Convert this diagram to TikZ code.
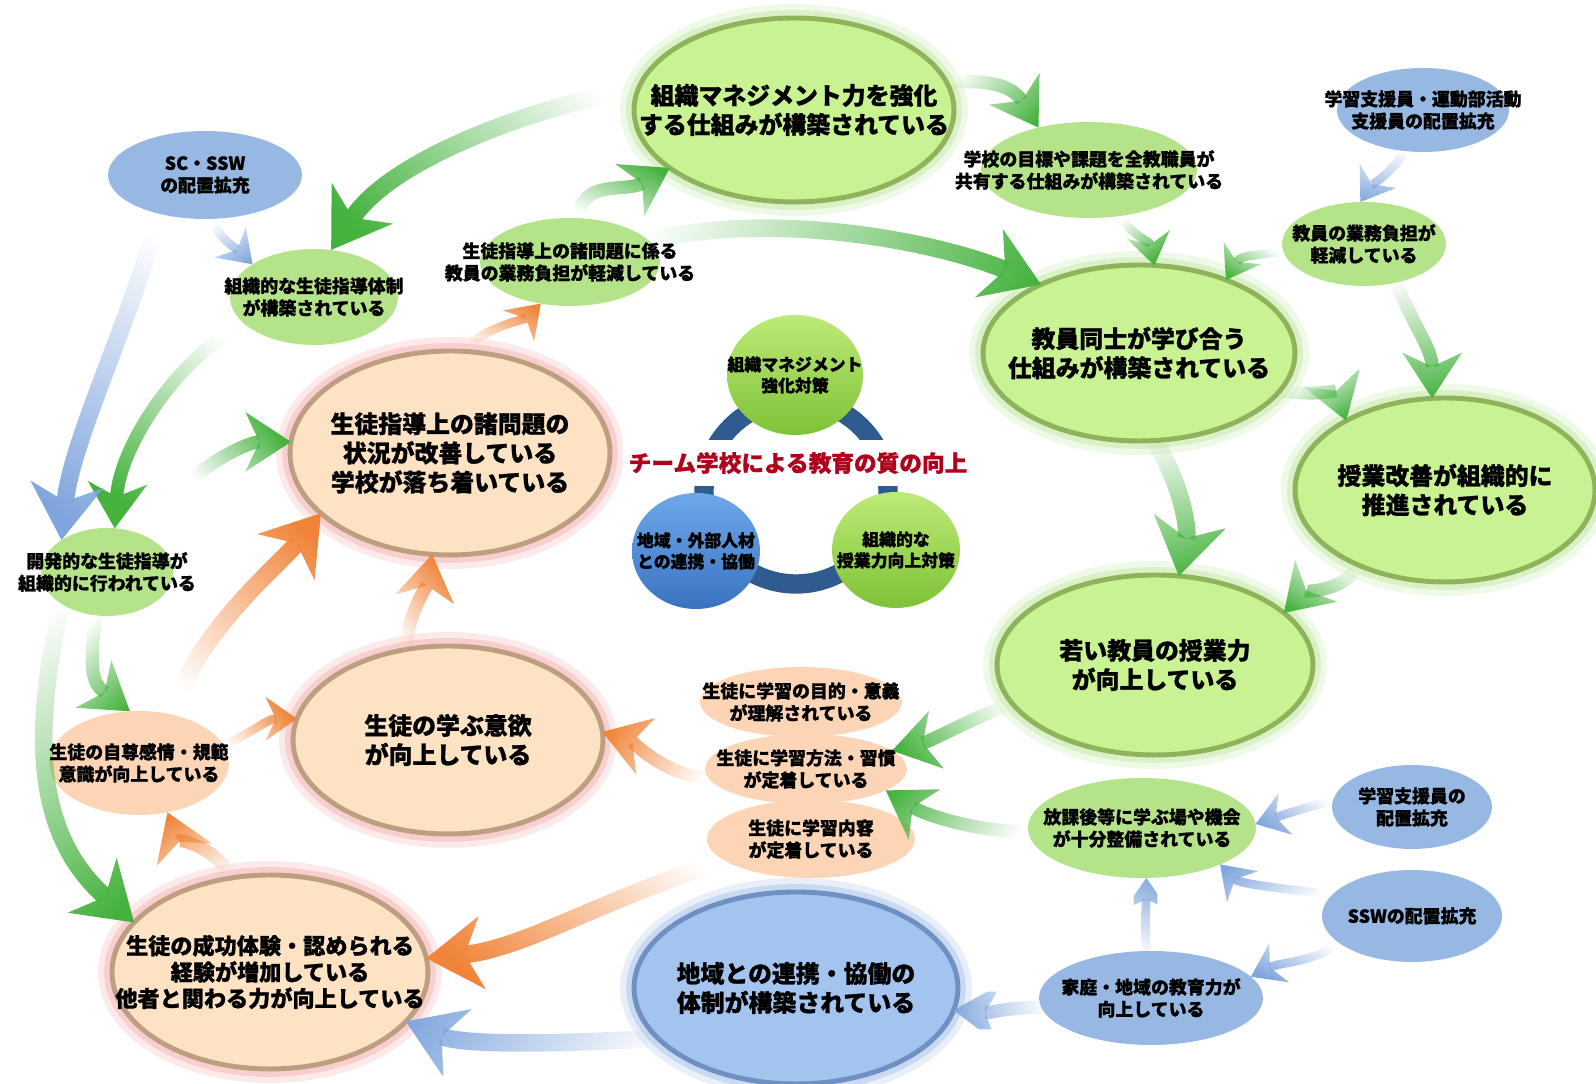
\documentclass[tikz,border=0pt]{standalone}
\usepackage{fontspec}
\newfontfamily\jp{Noto Sans CJK JP}[BoldFeatures={FakeBold=1}]
\usetikzlibrary{shapes.geometric,arrows.meta,fadings}

\definecolor{gFill}{HTML}{C9F293}
\definecolor{gRim}{HTML}{8EB35A}
\definecolor{gGlow}{HTML}{A8DC7A}
\definecolor{gSmall}{HTML}{B5E38A}
\definecolor{pFill}{HTML}{FDE2C3}
\definecolor{pRim}{HTML}{BE9E80}
\definecolor{pGlow}{HTML}{F08C8C}
\definecolor{pSmall}{HTML}{FBD5B6}
\definecolor{bFill}{HTML}{A3C4EE}
\definecolor{bRim}{HTML}{6E90C2}
\definecolor{bGlow}{HTML}{7FA6DE}
\definecolor{bSmall}{HTML}{97B8E3}
\definecolor{gArr}{HTML}{45B23E}
\definecolor{bArr}{HTML}{7FA5DC}
\definecolor{oArr}{HTML}{F0853A}
\definecolor{ringBlue}{HTML}{2F5B8E}
\definecolor{titleRed}{HTML}{B0001C}
\definecolor{tGreenTop}{HTML}{BDEA78}
\definecolor{tGreenBot}{HTML}{7EC236}
\definecolor{tBlueTop}{HTML}{6EA8EA}
\definecolor{tBlueBot}{HTML}{3A72C0}

\tikzfading[name=arrowfade, left color=transparent!100, right color=transparent!0]
\pgfdeclarelayer{shapes}
\pgfdeclarelayer{arrows}
\pgfsetlayers{shapes,arrows,main}

\begin{document}
\begin{tikzpicture}
[x=0.02cm, y=0.02cm,
  gbig/.style={ellipse, outer sep=0pt, fill=gFill, draw=gRim, line width=2.8pt,
    preaction={draw=gGlow, line width=16pt, draw opacity=.18},
    preaction={draw=gGlow, line width=9pt, draw opacity=.3}},%
  pbig/.style={ellipse, outer sep=0pt, fill=pFill, draw=pRim, line width=2.8pt,
    preaction={draw=pGlow, line width=16pt, draw opacity=.18},
    preaction={draw=pGlow, line width=9pt, draw opacity=.3}},%
  bbig/.style={ellipse, outer sep=0pt, fill=bFill, draw=bRim, line width=2.8pt,
    preaction={draw=bGlow, line width=16pt, draw opacity=.18},
    preaction={draw=bGlow, line width=9pt, draw opacity=.3}},%
  gsmall/.style={ellipse, outer sep=0pt, fill=gSmall},%
  psmall/.style={ellipse, outer sep=0pt, fill=pSmall},%
  bsmall/.style={ellipse, outer sep=0pt, fill=bSmall},%
  tgreen/.style={ellipse, outer sep=0pt, top color=tGreenTop, bottom color=tGreenBot},%
  tblue/.style={ellipse, outer sep=0pt, top color=tBlueTop, bottom color=tBlueBot},%
  ringline/.style={draw=ringBlue, line width=11pt},%
  bigtxt/.style={font=\jp\bfseries\fontsize{13.6}{16.6}\selectfont, align=center, inner sep=0pt},%
  succtxt/.style={font=\jp\bfseries\fontsize{12.6}{15}\selectfont, align=center, inner sep=0pt},%
  smalltxt/.style={font=\jp\bfseries\fontsize{10.2}{12.6}\selectfont, align=center, inner sep=0pt},%
  tritxt/.style={font=\jp\bfseries\fontsize{9.6}{12}\selectfont, align=center, inner sep=0pt},%
  titletxt/.style={font=\jp\bfseries\fontsize{12.9}{15}\selectfont, text=titleRed,
    fill=white, inner xsep=3pt, inner ysep=7pt},%
  garr/.style={draw=gArr, path fading=arrowfade},%
  barr/.style={draw=bArr, path fading=arrowfade},%
  oarr/.style={draw=oArr, path fading=arrowfade},%
  bigarr/.style={line width=10pt, -{Stealth[length=32pt, width=42pt, inset=10pt, line width=0pt]}},%
  midarr/.style={line width=7.5pt, -{Stealth[length=26pt, width=34pt, inset=8pt, line width=0pt]}},%
  smallarr/.style={line width=5pt, -{Stealth[length=18pt, width=25pt, inset=6pt, line width=0pt]}}]
\useasboundingbox (0,0) rectangle (1596,1084);
%% ring behind the three circles
\begin{pgfonlayer}{shapes}
\draw[ringline] (796,592) circle (92);
\end{pgfonlayer}
%% ellipses and their texts
\foreach \nm/\x/\y/\w/\h/\kind/\fnt/\txt in {
  org/794/974/6.4/3.68/gbig/bigtxt/{組織マネジメント力を強化\\する仕組みが構築されている},
  goal/1089/914/4.32/1.92/gsmall/smalltxt/{学校の目標や課題を全教職員が\\共有する仕組みが構築されている},
  sup1/1423/974/3.44/1.68/bsmall/smalltxt/{学習支援員・運動部活動\\支援員の配置拡充},
  burden/1364/840/3.28/1.68/gsmall/smalltxt/{教員の業務負担が\\軽減している},
  mutual/1139/731/6.24/3.52/gbig/bigtxt/{教員同士が学び合う\\仕組みが構築されている},
  lesson/1445/594/6.0/3.68/gbig/bigtxt/{授業改善が組織的に\\推進されている},
  young/1155/419/6.32/3.6/gbig/bigtxt/{若い教員の授業力\\が向上している},
  gburden/570/822/3.6/1.76/gsmall/smalltxt/{生徒指導上の諸問題に係る\\教員の業務負担が軽減している},
  scssw/205/909/3.88/1.76/bsmall/smalltxt/{SC・SSW\\の配置拡充},
  gsys/314/787/3.36/1.92/gsmall/smalltxt/{組織的な生徒指導体制\\が構築されている},
  calm/450/631/6.4/4.08/pbig/bigtxt/{生徒指導上の諸問題の\\状況が改善している\\学校が落ち着いている},
  devel/107/512/2.64/1.76/gsmall/smalltxt/{開発的な生徒指導が\\組織的に行われている},
  esteem/139/321/3.6/2.08/psmall/smalltxt/{生徒の自尊感情・規範\\意識が向上している},
  motiv/448/344/6.2/3.76/pbig/bigtxt/{生徒の学ぶ意欲\\が向上している},
  success/270/112/6.32/3.88/pbig/succtxt/{生徒の成功体験・認められる\\経験が増加している\\他者と関わる力が向上している},
  region/796/96/6.48/3.84/bbig/bigtxt/{地域との連携・協働の\\体制が構築されている},
  purpose/801/382/4.04/1.4/psmall/smalltxt/{生徒に学習の目的・意義\\が理解されている},
  method/806/315/4.04/1.4/psmall/smalltxt/{生徒に学習方法・習慣\\が定着している},
  content/811/245/4.16/1.56/psmall/smalltxt/{生徒に学習内容\\が定着している},
  afters/1142/256/4.56/2.0/gsmall/smalltxt/{放課後等に学ぶ場や機会\\が十分整備されている},
  sup2/1412/277/3.2/1.68/bsmall/smalltxt/{学習支援員の\\配置拡充},
  ssw/1412/168/3.6/1.84/bsmall/smalltxt/{SSWの配置拡充},
  family/1151/86/4.48/1.88/bsmall/smalltxt/{家庭・地域の教育力が\\向上している},
  tmgmt/795/709/2.72/2.4/tgreen/tritxt/{組織マネジメント\\強化対策},
  tlocal/696/533/2.56/2.32/tblue/tritxt/{地域・外部人材\\との連携・協働},
  tlesson/896/534/2.56/2.32/tgreen/tritxt/{組織的な\\授業力向上対策}} {
  \begin{pgfonlayer}{shapes}
  \node[\kind, minimum width=\w cm, minimum height=\h cm] (\nm) at (\x,\y) {};
  \end{pgfonlayer}
  \node[\fnt] (\nm-t) at (\nm) {\txt};
}
%% title in the middle of the ring
\node[titletxt] (title) at (798,621) {チーム学校による教育の質の向上};
%% arrows
\begin{pgfonlayer}{arrows}
\coordinate (gtail) at (190,604);
% green
\draw[garr,bigarr,fading angle=207] (org.172) .. controls +(-110,-20) and +(60,90) .. (gsys.70);
\draw[garr,midarr,fading angle=50] (gburden.80) .. controls +(5,40) and +(-45,-25) .. (org.205);
\draw[garr,bigarr,fading angle=-5] (gburden.15) .. controls +(120,30) and +(-110,45) .. (mutual.145);
\draw[garr,midarr,fading angle=-28] (org.10) .. controls +(45,5) and +(-25,40) .. (goal.140);
\draw[garr,smallarr,fading angle=-58] (goal.-55) .. controls +(10,-20) and +(-5,25) .. (mutual.80);
\draw[garr,smallarr,fading angle=221] (burden.185) .. controls +(-30,-5) and +(15,25) .. (mutual.40);
\draw[garr,midarr,fading angle=-85] (burden.-50) .. controls +(15,-40) and +(0,50) .. (lesson.98);
\draw[garr,midarr,fading angle=-38] (mutual.-15) .. controls +(35,-5) and +(-10,30) .. (lesson.145);
\draw[garr,bigarr,fading angle=-84] (mutual.-80) .. controls +(25,-40) and +(10,50) .. (young.75);
\draw[garr,midarr,fading angle=229] (lesson.-140) .. controls +(-5,-25) and +(20,20) .. (young.22);
\draw[garr,midarr,fading angle=200] (young.195) .. controls +(-40,-15) and +(40,10) .. (method.12);
\draw[garr,midarr,fading angle=163] (afters.182) .. controls +(-50,0) and +(40,-25) .. (method.-15);
\draw[garr,midarr,fading angle=240] (gsys.200) .. controls +(-70,-40) and +(5,80) .. (devel.80);
\draw[garr,midarr,fading angle=294] (devel.-105) .. controls +(-5,-50) and +(-40,30) .. (esteem.100);
\draw[garr,bigarr,fading angle=-73] (devel.-145) .. controls +(-35,-150) and +(-90,80) .. (success.160);
\draw[garr,midarr,fading angle=20] (gtail) .. controls +(30,25) and +(-40,0) .. (calm.176);
% blue
\draw[barr,smallarr,fading angle=-59] (scssw.-80) .. controls +(5,-20) and +(-15,15) .. (gsys.152);
\draw[barr,bigarr,fading angle=255] (scssw.-140) .. controls +(-25,-100) and +(10,100) .. (devel.145);
\draw[barr,smallarr,fading angle=259] (sup1.-115) .. controls +(-5,-15) and +(10,15) .. (burden.95);
\draw[barr,smallarr,fading angle=203] (sup2.175) .. controls +(-35,-10) and +(30,10) .. (afters.2);
\draw[barr,smallarr,fading angle=156] (ssw.165) .. controls +(-40,5) and +(20,-20) .. (afters.-25);
\draw[barr,smallarr,fading angle=222] (ssw.200) .. controls +(-25,-20) and +(30,15) .. (family.12);
\draw[barr,smallarr,fading angle=86] (family.95) .. controls +(-3,20) and +(0,-20) .. (afters.-85);
\draw[barr,midarr,fading angle=183] (family.185) .. controls +(-40,0) and +(40,-3) .. (region.-8);
\draw[barr,bigarr,fading angle=175] (region.200) .. controls +(-80,-5) and +(60,-25) .. (success.-20);
% orange
\draw[oarr,smallarr,fading angle=48] (calm.80) .. controls +(3,20) and +(-15,-15) .. (gburden.-125);
\draw[oarr,midarr,fading angle=69] (motiv.115) .. controls +(0,30) and +(-5,-30) .. (calm.-100);
\draw[oarr,bigarr,fading angle=55] (esteem.55) .. controls +(20,80) and +(-40,-50) .. (calm.-155);
\draw[oarr,smallarr,fading angle=19] (esteem.12) .. controls +(25,10) and +(-30,0) .. (motiv.172);
\draw[oarr,midarr,fading angle=124] (success.112) .. controls +(-15,30) and +(10,-25) .. (esteem.-60);
\draw[oarr,midarr,fading angle=162] (method.185) .. controls +(-40,0) and +(30,-10) .. (motiv.3);
\draw[oarr,bigarr,fading angle=199] (content.195) .. controls +(-110,-30) and +(100,10) .. (success.5);
\end{pgfonlayer}
\end{tikzpicture}
\end{document}
